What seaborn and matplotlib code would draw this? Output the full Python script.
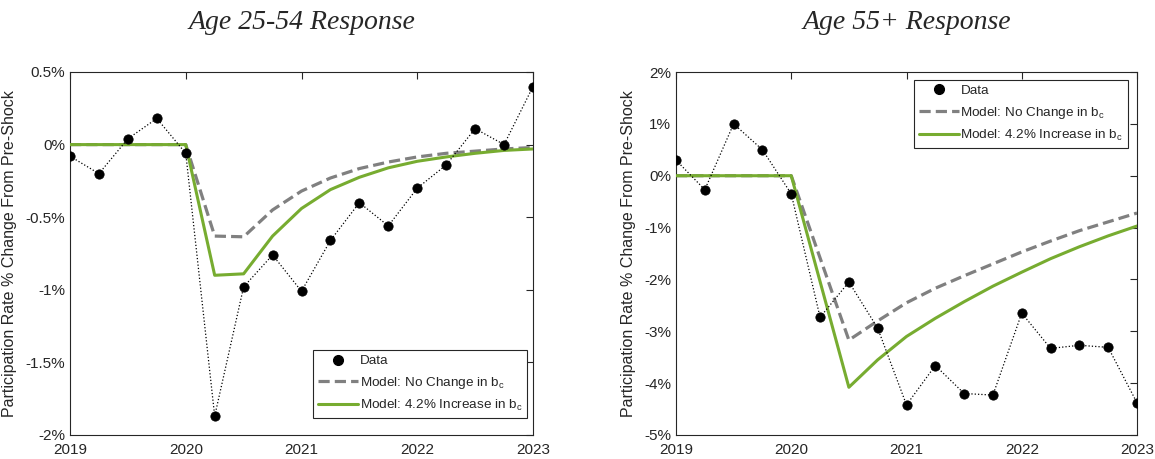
import seaborn as sns
import matplotlib
matplotlib.use("Agg")
import matplotlib.pyplot as plt
from matplotlib.lines import Line2D
from matplotlib.ticker import FuncFormatter
import pandas as pd

# quarterly dates
quarters = [2019.0, 2019.25, 2019.5, 2019.75, 2020.0, 2020.25, 2020.5, 2020.75,
            2021.0, 2021.25, 2021.5, 2021.75, 2022.0, 2022.25, 2022.5, 2022.75, 2023.0]

# Age 25-54
prime_data = [-0.08, -0.20, 0.04, 0.18, -0.06, -1.87, -0.98, -0.76,
              -1.01, -0.66, -0.40, -0.56, -0.30, -0.14, 0.11, 0.00, 0.40]
prime_nochange = [0, 0, 0, 0, 0, -0.63, -0.635, -0.45,
                  -0.32, -0.23, -0.165, -0.12, -0.085, -0.06, -0.045, -0.03, -0.02]
prime_increase = [0, 0, 0, 0, 0, -0.90, -0.89, -0.63,
                  -0.44, -0.31, -0.225, -0.16, -0.115, -0.085, -0.06, -0.04, -0.03]

# Age 55+
old_data = [0.30, -0.27, 1.00, 0.50, -0.35, -2.73, -2.05, -2.94,
            -4.42, -3.66, -4.20, -4.23, -2.65, -3.33, -3.27, -3.31, -4.38]
old_model_q = [2019.0, 2019.25, 2019.5, 2019.75, 2020.0, 2020.5, 2020.75,
               2021.0, 2021.25, 2021.5, 2021.75, 2022.0, 2022.25, 2022.5, 2022.75, 2023.0]
old_nochange = [0, 0, 0, 0, 0, -3.17, -2.80,
                -2.45, -2.17, -1.93, -1.70, -1.47, -1.26, -1.06, -0.89, -0.72]
old_increase = [0, 0, 0, 0, 0, -4.08, -3.55,
                -3.10, -2.75, -2.43, -2.13, -1.86, -1.60, -1.37, -1.16, -0.97]

year_ticks = [2019, 2020, 2021, 2022, 2023]
prime_yticks = [-2, -1.5, -1, -0.5, 0, 0.5]
old_yticks = [-5, -4, -3, -2, -1, 0, 1, 2]

gray = "#808080"
green = "#77AC30"

sns.set_style("white")
plt.rcParams["font.family"] = ["Liberation Sans", "DejaVu Sans"]
plt.rcParams["mathtext.fontset"] = "custom"
plt.rcParams["mathtext.rm"] = "Liberation Sans"
plt.rcParams["mathtext.it"] = "Liberation Sans"

fig = plt.figure(figsize=(11.55, 4.59), dpi=100)
ax1 = fig.add_axes([70 / 1155, 24 / 459, 463 / 1155, 363 / 459])
ax2 = fig.add_axes([676 / 1155, 24 / 459, 461 / 1155, 363 / 459])

pct = FuncFormatter(lambda v, p: "%g%%" % v)


def panel(ax, data_x, data, model_x, nochange, increase, yticks, title,
          legend_loc, legend_anchor):
    df = pd.DataFrame({"q": data_x, "v": data})
    dm = pd.DataFrame({"q": model_x, "a": nochange, "b": increase})
    sns.lineplot(data=df, x="q", y="v", ax=ax, color="black", lw=0.9,
                 linestyle=":", zorder=4)
    sns.lineplot(data=dm, x="q", y="a", ax=ax, color=gray, lw=2.3,
                 dashes=(3.5, 1.6), zorder=2)
    sns.lineplot(data=dm, x="q", y="b", ax=ax, color=green, lw=2.2, zorder=3)
    sns.scatterplot(data=df, x="q", y="v", ax=ax, color="black", s=45,
                    edgecolor="black", zorder=5)
    ax.set_xlim(year_ticks[0], year_ticks[-1])
    ax.set_ylim(yticks[0], yticks[-1])
    ax.set_xticks(year_ticks)
    ax.set_yticks(yticks)
    ax.yaxis.set_major_formatter(pct)
    ax.set_xlabel("")
    ax.set_ylabel("Participation Rate % Change From Pre-Shock", fontsize=11.5,
                  color="#262626", labelpad=6)
    ax.tick_params(direction="in", top=True, right=True, length=5, width=0.8,
                   labelsize=11, colors="#262626")
    ax.tick_params(axis="x", pad=6)
    for s in ax.spines.values():
        s.set_color("#262626")
        s.set_linewidth(0.8)
    ax.set_title(title, fontsize=20, style="italic", family="Liberation Serif",
                 pad=31)
    handles = [
        Line2D([], [], color="black", marker="o", linestyle="none", markersize=7),
        Line2D([], [], color=gray, lw=2.3, dashes=(3.5, 1.6)),
        Line2D([], [], color=green, lw=2.2),
    ]
    labels = ["Data", r"Model: No Change in b$_\mathrm{c}$",
              r"Model: 4.2% Increase in b$_\mathrm{c}$"]
    leg = ax.legend(handles, labels, loc=legend_loc, bbox_to_anchor=legend_anchor,
                    fontsize=9.7, handlelength=3.0, handletextpad=0.1,
                    fancybox=False, framealpha=1, edgecolor="#262626",
                    borderpad=0.35, labelspacing=0.55, borderaxespad=0)
    leg.get_frame().set_linewidth(0.8)


panel(ax1, quarters, prime_data, quarters, prime_nochange, prime_increase,
      prime_yticks, "Age 25-54 Response", "lower right", (0.987, 0.047))
panel(ax2, quarters, old_data, old_model_q, old_nochange, old_increase,
      old_yticks, "Age 55+ Response", "upper right", (0.980, 0.978))

fig.savefig("out.png", dpi=100)
